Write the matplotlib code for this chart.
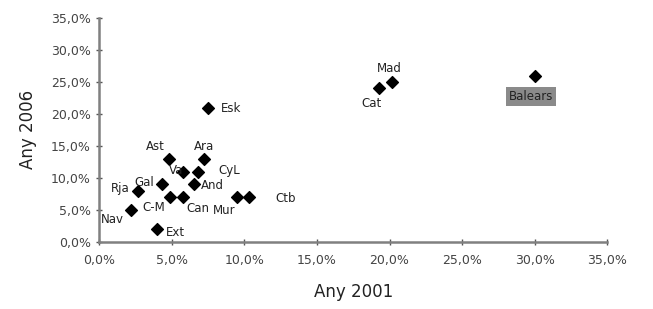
import matplotlib.pyplot as plt
import matplotlib.ticker as mticker

plt.rcParams['font.family'] = ['DejaVu Sans']

# dades (%)
regions = ['Balears', 'Mad', 'Cat', 'Esk', 'Ast', 'Ara', 'Va', 'CyL', 'Gal',
           'And', 'Rja', 'C-M', 'Can', 'Mur', 'Ctb', 'Nav', 'Ext']
any2001 = [30.0, 20.2, 19.3, 7.5, 4.8, 7.2, 5.8, 6.8, 4.3,
           6.5, 2.7, 4.9, 5.8, 9.5, 10.3, 2.2, 4.0]
any2006 = [26.0, 25.0, 24.0, 21.0, 13.0, 13.0, 11.0, 11.0, 9.0,
           9.0, 8.0, 7.0, 7.0, 7.0, 7.0, 5.0, 2.0]

# desplaçament de les etiquetes (pixels)
offsets = {
    'Balears': (-4, -21), 'Mad': (-3, 13), 'Cat': (-8, -15), 'Esk': (23, -1),
    'Ast': (-14, 12), 'Ara': (0, 12), 'Va': (-7, 1), 'CyL': (31, 1),
    'Gal': (-17, 2), 'And': (19, -1), 'Rja': (-18, 2), 'C-M': (-17, -10),
    'Can': (14, -11), 'Mur': (-13, -13), 'Ctb': (37, -1), 'Nav': (-19, -10),
    'Ext': (18, -3),
}

fig = plt.figure(figsize=(6.53, 3.09), dpi=100)
ax = fig.add_axes([0.152, 0.217, 0.778, 0.725])

ax.scatter(any2001, any2006, marker='D', s=36, color='black', zorder=3)

for name, x, y in zip(regions, any2001, any2006):
    dx, dy = offsets[name]
    kw = {}
    if name == 'Balears':
        kw['bbox'] = dict(boxstyle='square,pad=0.25', fc='#8a8a8a', ec='none')
    ax.annotate(name, (x, y), xytext=(dx, dy), textcoords='offset pixels',
                ha='center', va='center', fontsize=8.5, color='#222222', **kw)

ax.set_xlim(0, 35)
ax.set_ylim(0, 35)
ax.xaxis.set_major_locator(mticker.MultipleLocator(5))
ax.yaxis.set_major_locator(mticker.MultipleLocator(5))
fmt = mticker.FuncFormatter(lambda v, p: f'{v:.1f}%'.replace('.', ','))
ax.xaxis.set_major_formatter(fmt)
ax.yaxis.set_major_formatter(fmt)

for s in ['top', 'right']:
    ax.spines[s].set_visible(False)
for s in ['left', 'bottom']:
    ax.spines[s].set_color('#808080')
    ax.spines[s].set_linewidth(1.8)
ax.tick_params(direction='inout', length=5, width=1, color='#555555',
               labelsize=9, labelcolor='#444444')
ax.tick_params(axis='x', pad=6)

ax.set_xlabel('Any 2001', fontsize=12, color='#222222', labelpad=12)
ax.set_ylabel('Any 2006', fontsize=12, color='#222222', labelpad=10)

fig.savefig('out.png', dpi=100)
plt.close(fig)
